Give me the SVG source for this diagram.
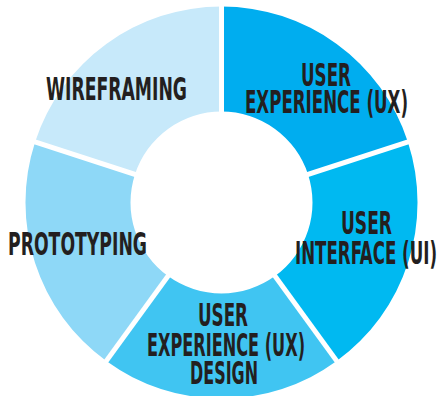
<svg xmlns="http://www.w3.org/2000/svg" width="440" height="396" viewBox="0 0 440 396">
<style>
.lbl{font-family:"Liberation Sans Narrow","DejaVu Sans Condensed","Liberation Sans",sans-serif;font-weight:bold;font-size:32px;fill:#231f20;text-anchor:middle}
.gap{stroke:#ffffff;stroke-width:5;stroke-linecap:butt}
</style>
<rect width="440" height="396" fill="#ffffff"/>
<g id="ux">
<path d="M221.5 6.5 A196 196 0 0 1 407.9 141.9 L308.05 174.38 A91 91 0 0 0 221.5 111.5 Z" fill="#00adef"/>
<text class="lbl" x="326" y="86" textLength="50" lengthAdjust="spacingAndGlyphs">USER</text>
<text class="lbl" x="326.5" y="113" textLength="163" lengthAdjust="spacingAndGlyphs">EXPERIENCE (UX)</text>
</g>
<g id="ui">
<path d="M407.9 141.9 A196 196 0 0 1 336.7 361.1 L274.99 276.12 A91 91 0 0 0 308.05 174.38 Z" fill="#00b9f1"/>
<text class="lbl" x="366.5" y="234" textLength="51" lengthAdjust="spacingAndGlyphs">USER</text>
<text class="lbl" x="366" y="264" textLength="142" lengthAdjust="spacingAndGlyphs">INTERFACE (UI)</text>
</g>
<g id="uxdesign">
<path d="M336.7 361.1 A196 196 0 0 1 106.3 361.1 L168.01 276.12 A91 91 0 0 0 274.99 276.12 Z" fill="#40c5f2"/>
<text class="lbl" x="223" y="326" textLength="50" lengthAdjust="spacingAndGlyphs">USER</text>
<text class="lbl" x="226" y="356" textLength="158" lengthAdjust="spacingAndGlyphs">EXPERIENCE (UX)</text>
<text class="lbl" x="224" y="384" textLength="68" lengthAdjust="spacingAndGlyphs">DESIGN</text>
</g>
<g id="prototyping">
<path d="M106.3 361.1 A196 196 0 0 1 35.1 141.9 L134.95 174.38 A91 91 0 0 0 168.01 276.12 Z" fill="#8ed8f7"/>
<text class="lbl" x="77.5" y="255" textLength="139" lengthAdjust="spacingAndGlyphs">PROTOTYPING</text>
</g>
<g id="wireframing">
<path d="M35.1 141.9 A196 196 0 0 1 221.5 6.5 L221.5 111.5 A91 91 0 0 0 134.95 174.38 Z" fill="#c7e9fa"/>
<text class="lbl" x="116.5" y="100" textLength="141" lengthAdjust="spacingAndGlyphs">WIREFRAMING</text>
</g>
<g id="connectors">
<line class="gap" x1="221.5" y1="202.5" x2="221.5" y2="0"/>
<line class="gap" x1="221.5" y1="202.5" x2="421.2" y2="137.6"/>
<line class="gap" x1="221.5" y1="202.5" x2="345" y2="372.4"/>
<line class="gap" x1="221.5" y1="202.5" x2="98" y2="372.4"/>
<line class="gap" x1="221.5" y1="202.5" x2="21.8" y2="137.6"/>
</g>
</svg>
